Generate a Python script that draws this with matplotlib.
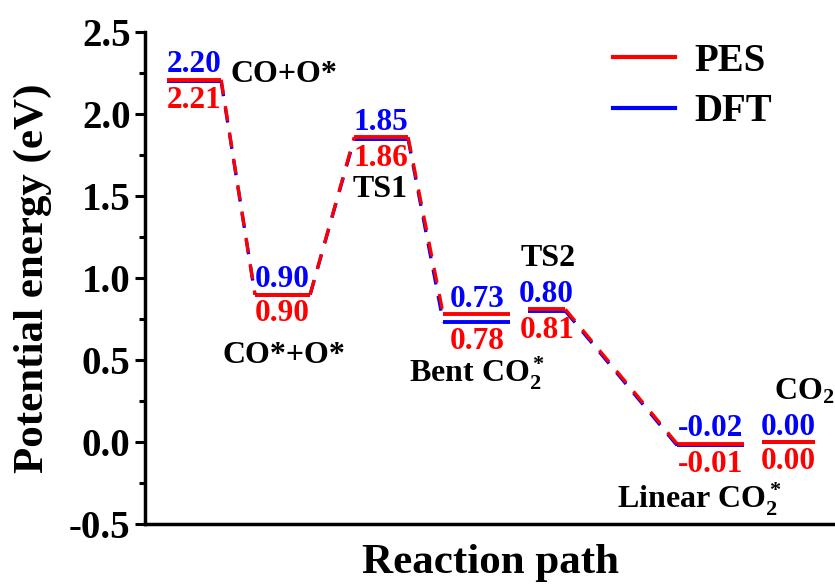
import matplotlib
matplotlib.use("Agg")
import matplotlib.pyplot as plt
from matplotlib.lines import Line2D

plt.rcParams["font.family"] = "Liberation Serif"
plt.rcParams["font.weight"] = "bold"
plt.rcParams["axes.labelweight"] = "bold"
plt.rcParams["axes.unicode_minus"] = False
plt.rcParams["mathtext.fontset"] = "custom"
plt.rcParams["mathtext.rm"] = "Liberation Serif:bold"
plt.rcParams["mathtext.it"] = "Liberation Serif:bold"
plt.rcParams["mathtext.bf"] = "Liberation Serif:bold"

# ---- data ----
species = ["CO+O*", "CO*+O*", "TS1", r"Bent CO$_2^*$", "TS2",
           r"Linear CO$_2^*$", r"CO$_2$"]
pes = [2.21, 0.90, 1.86, 0.78, 0.81, -0.01, 0.00]
dft = [2.20, 0.90, 1.85, 0.73, 0.80, -0.02, 0.00]
# horizontal extent of each level along the (arbitrary) reaction path axis
x_start = [0.32, 1.59, 3.03, 4.32, 5.55, 7.71, 8.94]
x_end = [1.10, 2.39, 3.81, 5.29, 6.09, 8.68, 9.71]
# which consecutive levels are joined by a dashed connector
links = [(0, 1), (1, 2), (2, 3), (4, 5)]

# species-label anchors (x, y, ha)
label_pos = [(1.23, 2.24, "left"), (2.01, 0.53, "center"), (3.41, 1.54, "center"),
             (4.81, 0.42, "center"), (5.84, 1.12, "center"),
             (8.04, -0.35, "center"), (9.55, 0.31, "center")]

RED = "#ff0000"
BLUE = "#0000ff"

fig = plt.figure(figsize=(8.35, 5.85), dpi=100)
ax = fig.add_axes([0.174, 0.104, 0.826, 0.841])

for i in range(len(pes)):
    ax.plot([x_start[i], x_end[i]], [dft[i], dft[i]], color=BLUE, lw=2.8,
            solid_capstyle="butt")
    ax.plot([x_start[i], x_end[i]], [pes[i], pes[i]], color=RED, lw=2.8,
            solid_capstyle="butt")
    xc = 0.5 * (x_start[i] + x_end[i])
    ax.text(xc, max(pes[i], dft[i]) + 0.045, f"{dft[i]:.2f}", color=BLUE,
            fontsize=22.5, ha="center", va="baseline")
    ax.text(xc, min(pes[i], dft[i]) - 0.03, f"{pes[i]:.2f}", color=RED,
            fontsize=22.5, ha="center", va="top")
    lx, ly, ha = label_pos[i]
    ax.text(lx, ly, species[i], fontsize=23, ha=ha, va="center", color="black")

for a, b in links:
    ax.plot([x_end[a], x_start[b]], [dft[a], dft[b]], color=BLUE, lw=2.4,
            dashes=(4.5, 3.5))
    ax.plot([x_end[a], x_start[b]], [pes[a], pes[b]], color=RED, lw=2.4,
            dashes=(4.5, 3.5))

ax.set_xlim(0, 10)
ax.set_ylim(-0.5, 2.5)
ax.set_yticks([-0.5, 0.0, 0.5, 1.0, 1.5, 2.0, 2.5])
ax.set_yticks([-0.25, 0.25, 0.75, 1.25, 1.75, 2.25], minor=True)
ax.set_xticks([])
ax.tick_params(axis="y", which="major", length=7.5, width=2.2, labelsize=28, pad=3)
ax.tick_params(axis="y", which="minor", length=4, width=2.2)
for lab in ax.get_yticklabels():
    lab.set_fontweight("bold")
for side in ("top", "right"):
    ax.spines[side].set_visible(False)
for side in ("left", "bottom"):
    ax.spines[side].set_linewidth(2.5)

ax.set_ylabel("Potential energy (eV)", fontsize=31, fontweight="bold", labelpad=12)
ax.set_xlabel("Reaction path", fontsize=31, fontweight="bold", labelpad=14)

handles = [Line2D([], [], color=RED, lw=3), Line2D([], [], color=BLUE, lw=3)]
ax.legend(handles, ["PES", "DFT"], loc="upper right", frameon=False,
          prop={"size": 28, "weight": "bold"}, handlelength=1.6,
          handletextpad=0.5, labelspacing=0.35, bbox_to_anchor=(0.96, 1.05))

fig.savefig("out.png", dpi=100)
